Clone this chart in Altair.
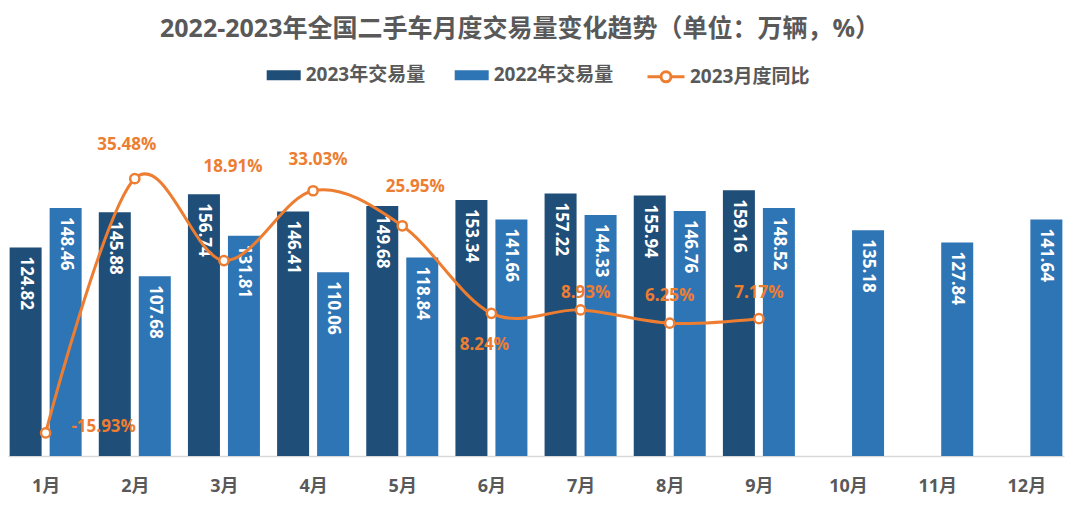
import altair as alt
import pandas as pd

months = ["1月", "2月", "3月", "4月", "5月", "6月", "7月", "8月", "9月", "10月", "11月", "12月"]
vol_2023 = [124.82, 145.88, 156.74, 146.41, 149.68, 153.34, 157.22, 155.94, 159.16]
vol_2022 = [148.46, 107.68, 131.81, 110.06, 118.84, 141.66, 144.33, 146.76, 148.52, 135.18, 127.84, 141.64]
yoy_2023 = [-15.93, 35.48, 18.91, 33.03, 25.95, 8.24, 8.93, 6.25, 7.17]

S23 = "2023年交易量"
S22 = "2022年交易量"
SL = "2023月度同比"

C23 = "#1F4E79"
C22 = "#2E75B6"
CL = "#ED7D31"
GREY = "#595959"
FONT = "Open Sans, Noto Sans CJK SC"

df23 = pd.DataFrame({"month": months[:len(vol_2023)], "value": vol_2023, "series": S23})
df22 = pd.DataFrame({"month": months, "value": vol_2022, "series": S22})
dfl = pd.DataFrame({"month": months[:len(yoy_2023)], "yoy": yoy_2023, "series": SL})

x_enc = alt.X(
    "month:N",
    sort=months,
    scale=alt.Scale(type="point", domain=months, padding=0.422),
    axis=alt.Axis(
        title=None, ticks=False, labelAngle=0, labelFont=FONT, labelFontSize=18,
        labelFontWeight="bold", labelColor=GREY, labelPadding=21,
        domainColor="#D9D9D9", domainWidth=1.5, grid=False,
    ),
)
y_bar = alt.Y("value:Q", scale=alt.Scale(domain=[0, 191.6], nice=False, zero=True), axis=None)
color_enc = alt.Color(
    "series:N",
    scale=alt.Scale(domain=[S23, S22], range=[C23, C22]),
    legend=alt.Legend(
        title=None, orient="none", direction="horizontal", legendX=258.7, legendY=-77.7,
        symbolType="M-1,-0.29H1V0.29H-1Z", symbolSize=1156, symbolStrokeWidth=0,
        labelFont=FONT, labelFontSize=19, labelFontWeight="bold", labelColor=GREY,
        labelOffset=5, columnPadding=29, padding=0,
    ),
)

bar23 = alt.Chart(df23).mark_bar(size=32, xOffset=-20).encode(x=x_enc, y=y_bar, color=color_enc)
bar22 = alt.Chart(df22).mark_bar(size=32, xOffset=20).encode(x=x_enc, y=y_bar, color=color_enc)

lab_style = dict(angle=90, align="left", baseline="middle", font=FONT, fontSize=17,
                 fontWeight="bold", color="white", yOffset=9)
txt23 = alt.Chart(df23).mark_text(xOffset=-20, **lab_style).encode(
    x=x_enc, y=y_bar, text=alt.Text("value:Q", format=".2f"))
txt22 = alt.Chart(df22).mark_text(xOffset=20, **lab_style).encode(
    x=x_enc, y=y_bar, text=alt.Text("value:Q", format=".2f"))

bars = alt.layer(bar23, bar22, txt23, txt22)

y_line = alt.Y("yoy:Q", scale=alt.Scale(domain=[-20.6, 44.1], nice=False, zero=False), axis=None)
line = alt.Chart(dfl).mark_line(interpolate="cardinal", strokeWidth=3).encode(
    x=x_enc, y=y_line,
    stroke=alt.Stroke(
        "series:N",
        scale=alt.Scale(domain=[SL], range=[CL]),
        legend=alt.Legend(
            title=None, orient="none", direction="horizontal", legendX=638, legendY=-79.2,
            symbolType="M-1,0H-0.27M0.27,0H1M0.27,0A0.27,0.27,0,1,1,-0.27,0A0.27,0.27,0,1,1,0.27,0Z",
            symbolSize=1369, symbolStrokeWidth=3, symbolFillColor="white",
            labelFont=FONT, labelFontSize=19, labelFontWeight="bold", labelColor=GREY,
            labelOffset=4, padding=0,
        ),
    ),
)
points = alt.Chart(dfl).mark_point(
    filled=True, fill="white", stroke=CL, strokeWidth=2.5, size=85, opacity=1
).encode(x=x_enc, y=y_line)

# label placement (dx, dy) per month, as in the reference
label_offsets = [
    ("1月", 58, -6), ("2月", -8, -34), ("3月", 9, -94), ("4月", 5, -31), ("5月", 13, -39),
    ("6月", -7, 32), ("7月", 5, -17), ("8月", 0, -27), ("9月", 0, -26),
]
line_labels = []
for m, dx, dy in label_offsets:
    line_labels.append(
        alt.Chart(dfl)
        .transform_filter(alt.datum.month == m)
        .transform_calculate(lbl="replace(format(datum.yoy, '.2f'), '\u2212', '-') + '%'")
        .mark_text(dx=dx, dy=dy, align="center", baseline="middle", font=FONT,
                   fontSize=17, fontWeight="bold", color=CL)
        .encode(x=x_enc, y=y_line, text="lbl:N")
    )

lines = alt.layer(line, points, *line_labels)

chart = (
    alt.layer(bars, lines)
    .resolve_scale(y="independent")
    .properties(
        width=1056, height=320,
        background="white",
        autosize=alt.AutoSizeParams(type="none"),
        padding={"left": 0, "top": 128, "right": 8, "bottom": 42},
        title=alt.TitleParams(
            text="2022-2023年全国二手车月度交易量变化趋势（单位：万辆，%）",
            anchor="middle", frame="group", dx=-16, offset=0, dy=5, baseline="alphabetic",
            font=FONT, fontSize=25, fontWeight="bold", color=GREY,
        ),
    )
    .configure_view(stroke="transparent", strokeWidth=0)
)

chart.save("out.html", embed_options={"renderer": "svg", "actions": False})
